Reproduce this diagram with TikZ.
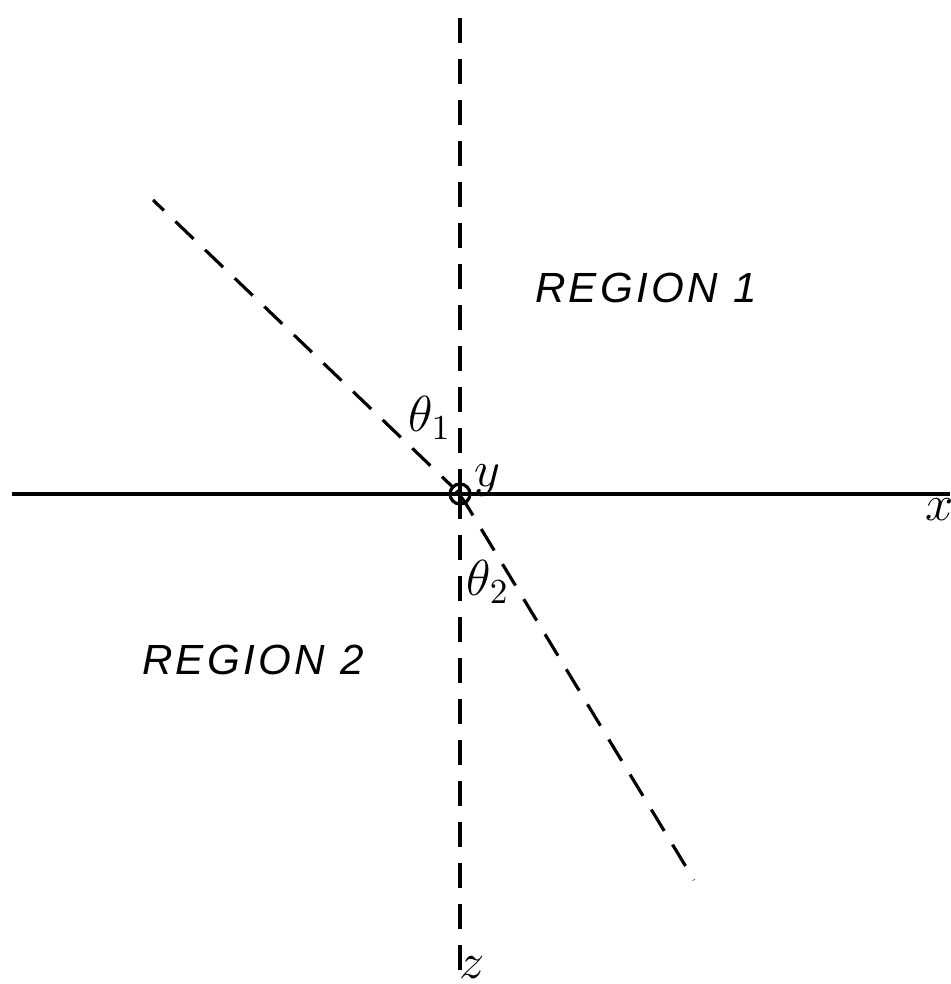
\documentclass[tikz,border=0pt]{standalone}
\usepackage{fontspec}
\newfontfamily\rotfont[LetterSpace=8]{Liberation Sans}
\usetikzlibrary{calc}

\begin{document}
\begin{tikzpicture}[line width=0.9pt,
  eje/.style={dash pattern=on 0.25cm off 0.16cm},
  rotulo/.style={font=\rotfont\itshape\large},
  simbolo/.style={font=\Large}]
  \useasboundingbox (-4.60,-4.90) rectangle (4.91,4.94);
  % ejes
  \coordinate (O) at (0,0);
  \coordinate (arriba) at (0,4.84);
  \coordinate (abajo) at (0,-4.81);
  \coordinate (izq) at (-4.48,0);
  \coordinate (der) at (4.90,0);
  \draw (izq)--(der);
  \draw[eje] (O)--(arriba);
  \draw[eje] (O)--(abajo);
  % rayos
  \coordinate (incidente) at (-3.07,2.94);
  \coordinate (refractado) at (2.34,-3.86);
  \draw[eje] (O)--(incidente);
  \draw[eje] (O)--(refractado);
  % origen
  \node[draw,circle,minimum size=0.2cm,inner sep=0pt,fill=white] (orig) at (O){};
  \draw (orig.north)--(orig.south);
  \draw (orig.west)--(orig.east);
  \draw ($(O)!0.05cm!(incidente)$)--($(O)!0.1cm!(refractado)$);
  % textos
  \node[simbolo] (t1) at (-0.30,0.76){$\theta_1$};
  \node[simbolo] (t2) at (0.28,-0.88){$\theta_2$};
  \node[simbolo] (ey) at (0.27,0.13){$y$};
  \node[simbolo] (ex) at (4.80,-0.16){$x$};
  \node[simbolo] (ez) at (0.12,-4.74){$z$};
  \node[rotulo] (r1) at (1.86,2.06){REGION 1};
  \node[rotulo] (r2) at (-2.07,-1.66){REGION 2};
\end{tikzpicture}
\end{document}
